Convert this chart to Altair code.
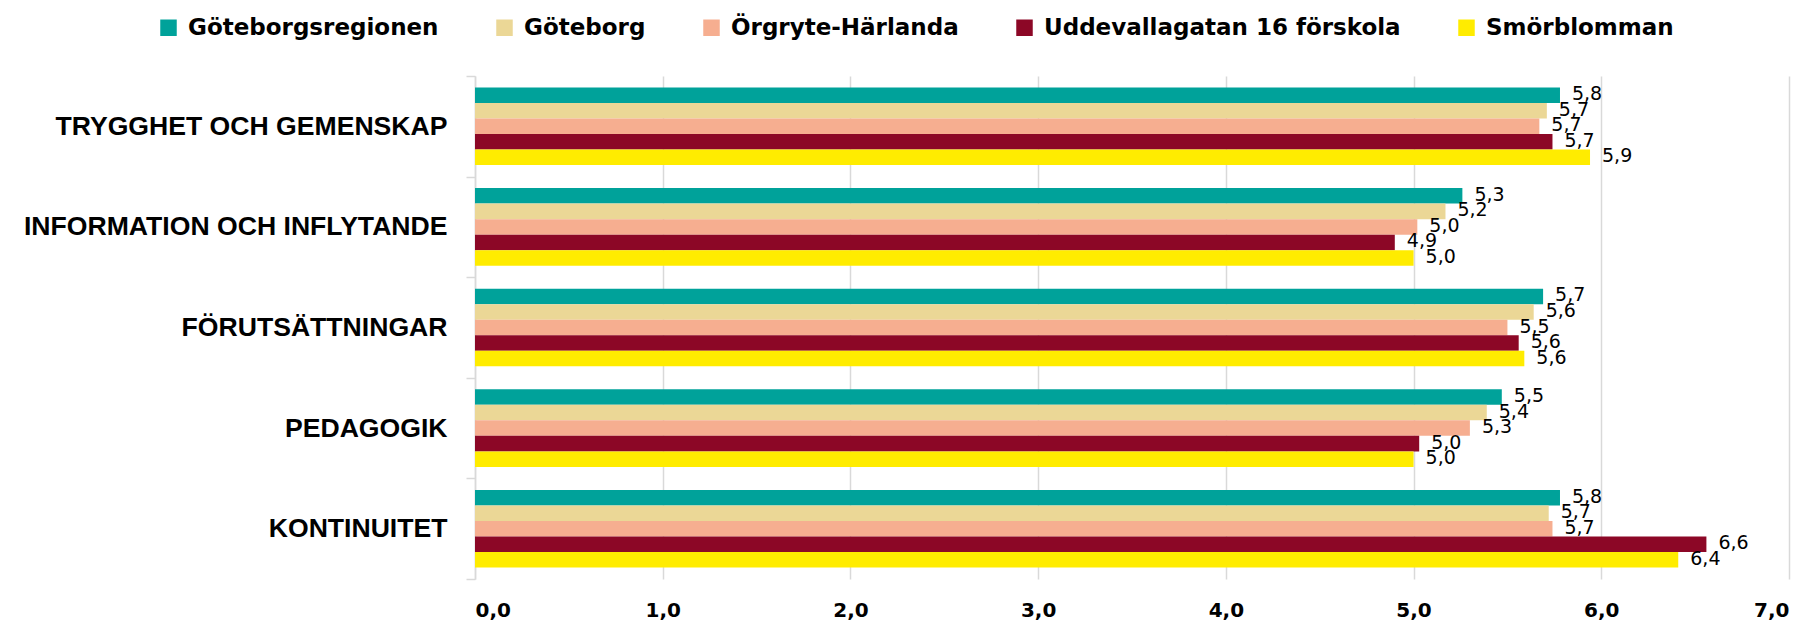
import altair as alt
import pandas as pd

categories = [
    "TRYGGHET OCH GEMENSKAP",
    "INFORMATION OCH INFLYTANDE",
    "FÖRUTSÄTTNINGAR",
    "PEDAGOGIK",
    "KONTINUITET",
]
series = [
    "Göteborgsregionen",
    "Göteborg",
    "Örgryte-Härlanda",
    "Uddevallagatan 16 förskola",
    "Smörblomman",
]
colors = ["#00A29A", "#EBD796", "#F6AE90", "#8C0726", "#FFEC00"]

goteborgsregionen = [5.78, 5.26, 5.69, 5.47, 5.78]
goteborg = [5.71, 5.17, 5.64, 5.39, 5.72]
orgryte_harlanda = [5.67, 5.02, 5.50, 5.30, 5.74]
uddevallagatan = [5.74, 4.90, 5.56, 5.03, 6.56]
smorblomman = [5.94, 5.00, 5.59, 5.00, 6.41]

x_ticks = [0, 1, 2, 3, 4, 5, 6, 7]

values_by_series = [goteborgsregionen, goteborg, orgryte_harlanda, uddevallagatan, smorblomman]
rows = []
for s, vals in zip(series, values_by_series):
    for c, v in zip(categories, vals):
        rows.append({"category": c, "series": s, "value": v})
df = pd.DataFrame(rows)

comma_fmt = "replace(format(datum.value, '.1f'), '.', ',')"

base = alt.Chart(df).transform_calculate(
    label=comma_fmt
).encode(
    y=alt.Y(
        "category:N",
        sort=categories,
        scale=alt.Scale(paddingInner=0, paddingOuter=0),
        axis=alt.Axis(
            title=None,
            labelFont="Liberation Sans",
            labelFontSize=26.6,
            labelFontWeight="bold",
            labelColor="black",
            labelPadding=19,
            labelLimit=0,
            tickSize=9,
            tickColor="#d9d9d9",
            tickWidth=1.5,
            tickBand="extent",
            domainColor="#d9d9d9",
            domainWidth=1.5,
            grid=False,
        ),
    ),
    yOffset=alt.YOffset(
        "series:N",
        sort=series,
        scale=alt.Scale(paddingInner=0, paddingOuter=0.74),
    ),
)

bars = base.mark_bar().encode(
    x=alt.X(
        "value:Q",
        scale=alt.Scale(domain=[0, 7], nice=False),
        axis=alt.Axis(
            title=None,
            values=x_ticks,
            labelExpr=comma_fmt,
            labelFont="DejaVu Sans",
            labelFontSize=20,
            labelFontWeight="bold",
            labelColor="black",
            labelPadding=21,
            ticks=False,
            domain=False,
            grid=True,
            gridColor="#d9d9d9",
            gridWidth=1.5,
        ),
    ),
    color=alt.Color(
        "series:N",
        sort=series,
        scale=alt.Scale(domain=series, range=colors),
        legend=alt.Legend(
            title=None,
            orient="none",
            legendX=-318,
            legendY=-60,
            direction="horizontal",
            symbolType="square",
            symbolSize=272,
            symbolStrokeWidth=0,
            symbolOpacity=1,
            labelFont="DejaVu Sans",
            labelFontSize=23,
            labelFontWeight="bold",
            labelColor="black",
            labelOffset=8,
            labelLimit=0,
            columnPadding=54,
            padding=0,
        ),
    ),
)

labels = base.mark_text(
    align="left",
    baseline="middle",
    dx=12,
    dy=-1,
    font="DejaVu Sans",
    fontSize=19,
    color="black",
).encode(
    x=alt.X("value:Q"),
    text=alt.Text("label:N"),
)

chart = alt.layer(bars, labels).properties(
    width=1314,
    height=503,
    padding={"left": 467, "top": 68, "right": 10, "bottom": 44},
    autosize=alt.AutoSizeParams(type="none"),
).configure_view(stroke=None)

chart.save("out.html", embed_options={"renderer": "svg", "actions": False})
